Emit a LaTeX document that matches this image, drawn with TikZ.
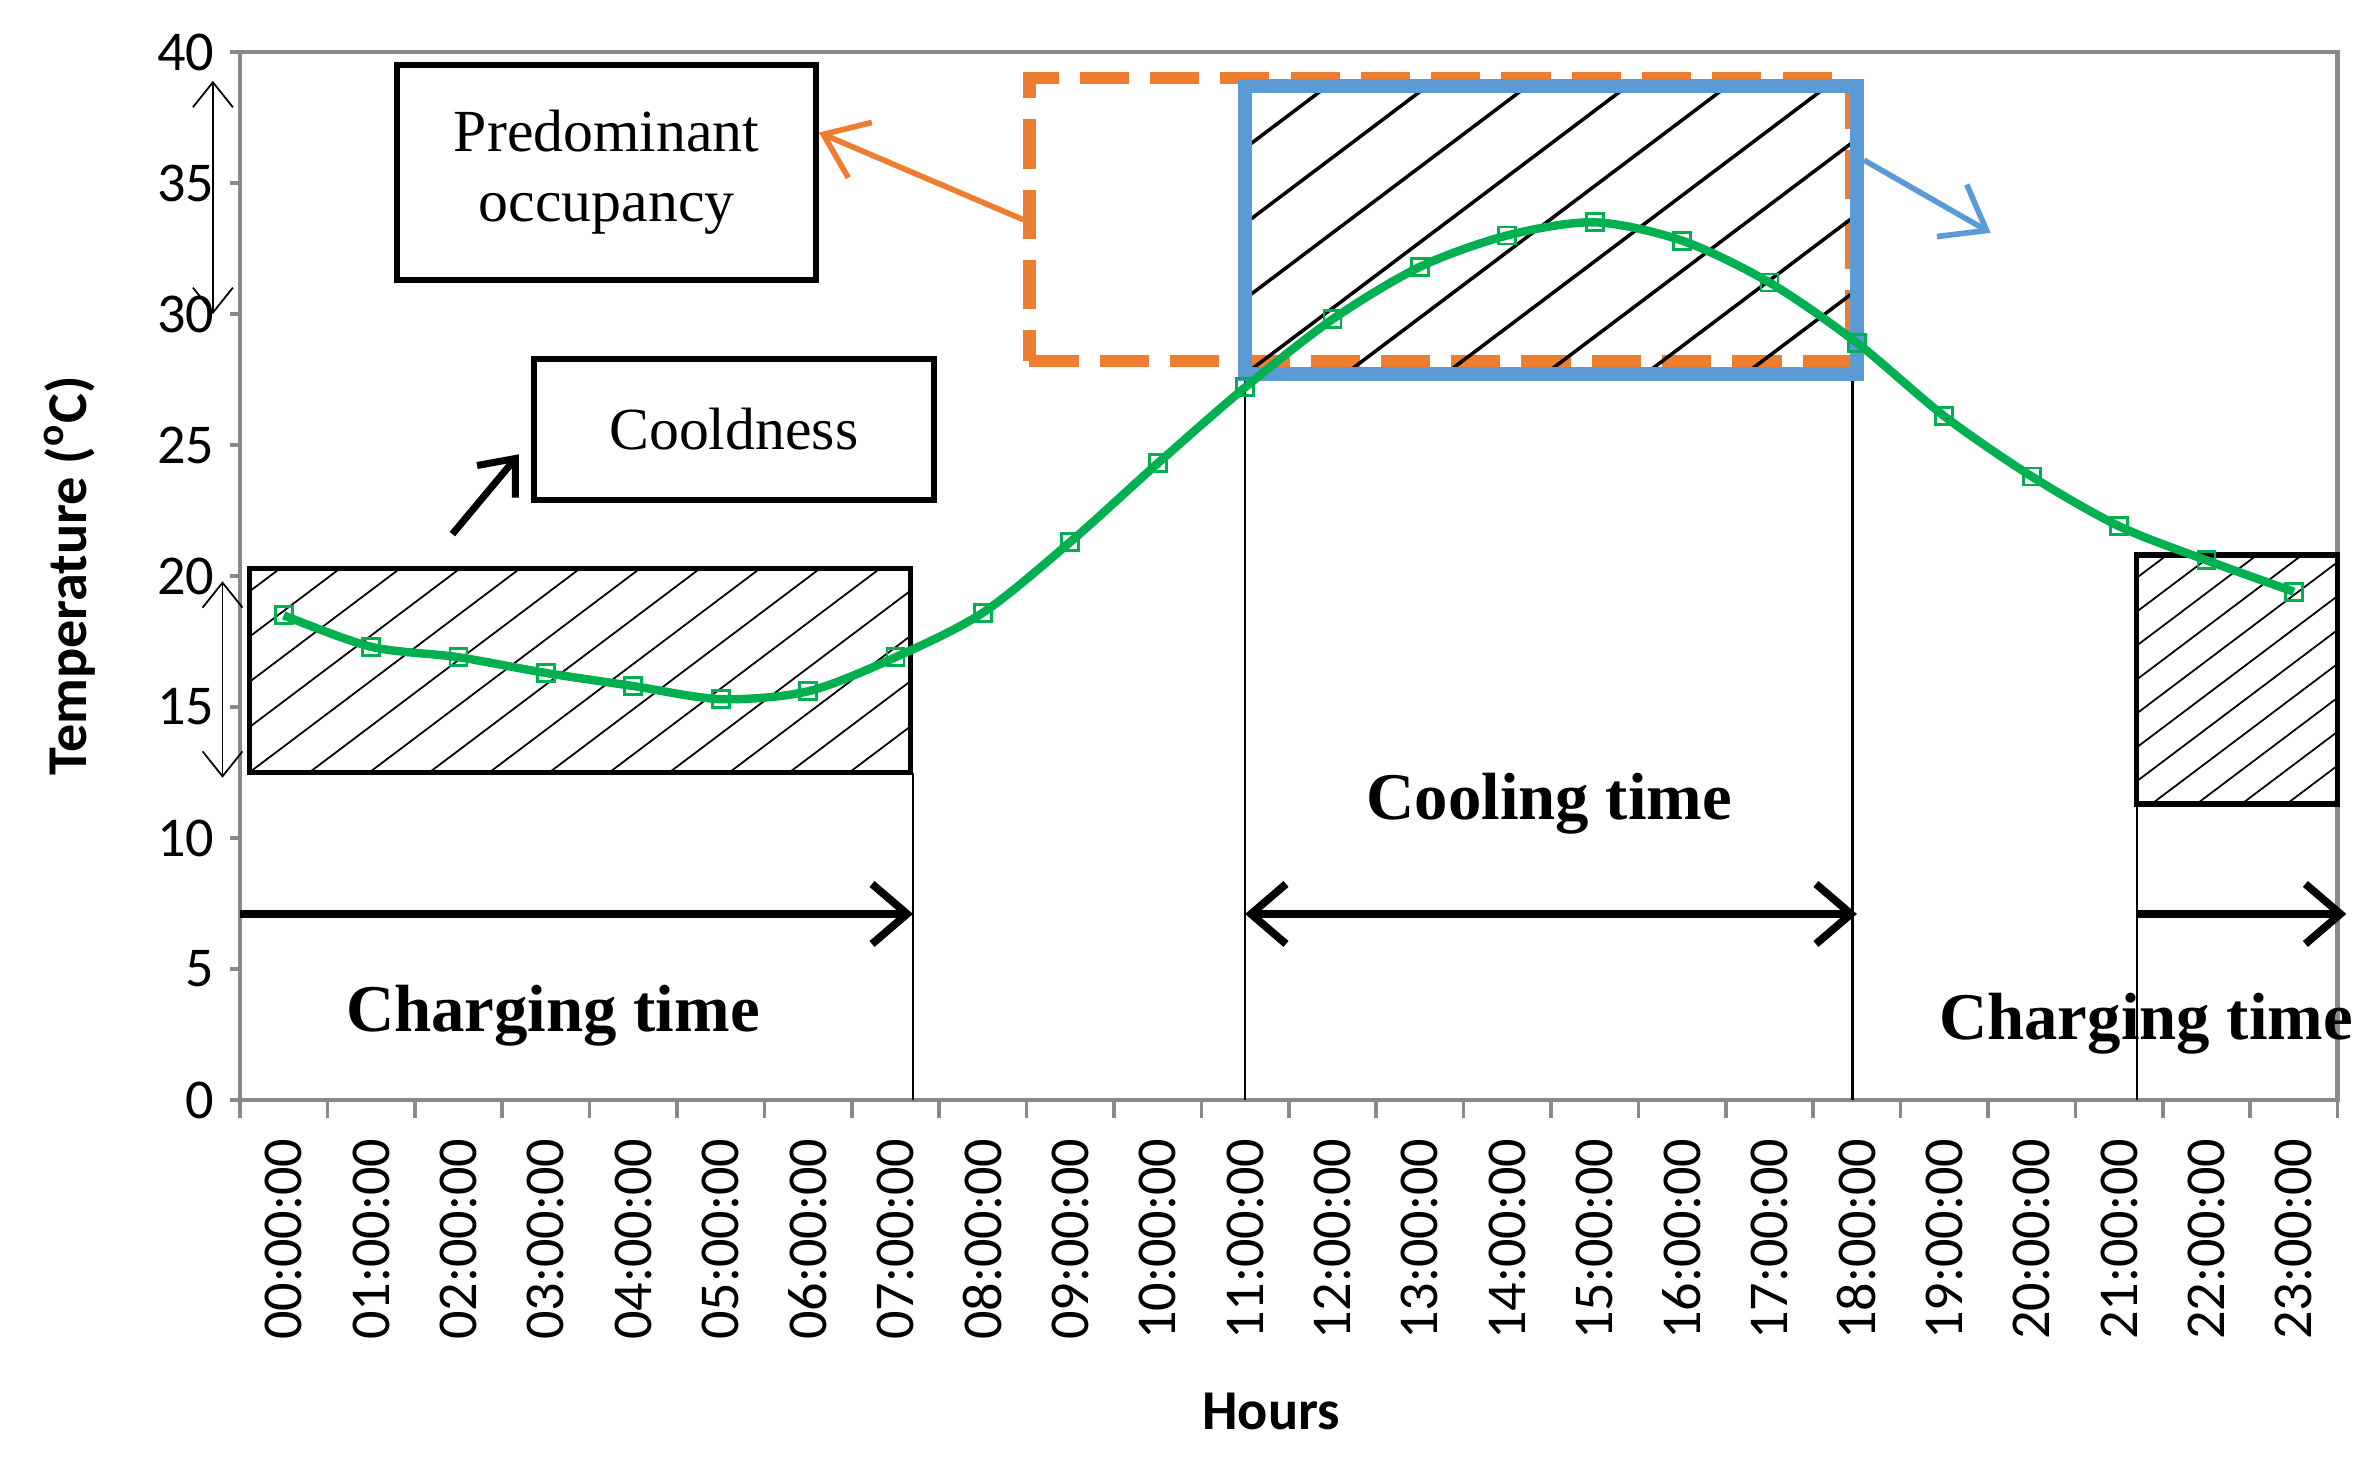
\documentclass[tikz,border=0pt]{standalone}
\usepackage{fontspec}
\setmainfont{Liberation Serif}
\newfontfamily\axisfont{Carlito}
\usetikzlibrary{arrows.meta,positioning}
\definecolor{curvegreen}{RGB}{0,176,80}
\definecolor{occorange}{RGB}{237,125,49}
\definecolor{coolblue}{RGB}{91,155,213}
\definecolor{framegray}{RGB}{137,137,137}
\tikzset{
  box/.style={draw, line width=1.6pt, inner sep=0pt, font=\fontsize{17}{20}\selectfont, align=center},
  hatch/.style 2 args={path picture={
      \foreach \k in {0,...,40}
        \draw[black, line width=#2] ([xshift=\k*#1 cm - 12cm]path picture bounding box.south west) -- ++(37:20cm);}},
  span/.style={line width=2.2pt, -{Straight Barb[length=3.5mm,width=6mm]}},
  thin span/.style={line width=0.5pt, {Straight Barb[length=2.5mm,width=4mm]}-{Straight Barb[length=2.5mm,width=4mm]}},
  period/.style={font=\bfseries\fontsize{19}{22}\selectfont},
  tick/.style={font=\axisfont\fontsize{16}{18}\selectfont},
}
\begin{document}
\begin{tikzpicture}
\useasboundingbox (0,0) rectangle (23.75,14.57);
\begin{scope}[shift={(2.40,3.57)}, x=0.874cm, y=0.262cm]
  % frame and axes
  \draw[framegray, line width=1.2pt] (0,0) rectangle (24,40);
  \foreach \t in {0,5,...,40} {
    \draw[framegray, line width=1pt] (-0.12,\t) -- (0,\t);
    \node[tick, anchor=east] at (-0.15,\t) {\t};
  }
  \foreach \h in {0,...,24}
    \draw[framegray, line width=1pt] (\h,0) -- (\h,-0.7);
  \foreach \h in {0,...,23} {
    \pgfmathsetmacro{\hh}{\h<10 ? "0\h" : "\h"}
    \node[tick, rotate=90, anchor=east] at (\h+0.5,-1) {\hh:00:00};
  }
  \node[font=\axisfont\bfseries\fontsize{16}{19}\selectfont, rotate=90] at (-1.95,20) {Temperature (\textsuperscript{o}C)};
  \node[font=\axisfont\bfseries\fontsize{16}{19}\selectfont] at (11.8,-11.9) {Hours};

  % period separators
  \draw[line width=0.6pt] (7.7,12.5) -- (7.7,0);
  \draw[line width=0.6pt] (11.5,29.6) -- (11.5,0);
  \draw[line width=0.6pt] (18.45,28) -- (18.45,0);
  \draw[line width=0.6pt] (21.7,20) -- (21.7,0);

  % boxes
  \node[box, hatch={0.6}{0.5pt}, minimum width=6.61cm, minimum height=2.04cm] (chargebox) at (3.89,16.4) {};
  \node[box, hatch={0.45}{0.5pt}, minimum width=2.01cm, minimum height=2.49cm] (latebox) at (22.85,16.05) {};
  \node[box, minimum width=4.19cm, minimum height=2.15cm] (pred) at (4.195,35.4) {Predominant\\occupancy};
  \node[box, minimum width=4.0cm, minimum height=1.41cm] (cold) at (5.65,25.6) {Cooldness};
  \node[draw=occorange, line width=3.5pt, dash pattern=on 14pt off 6pt, minimum width=8.22cm, minimum height=2.83cm, inner sep=0pt] (occ) at (13.735,33.6) {};
  \node[draw=coolblue, line width=4pt, hatch={1.0}{1pt}, minimum width=6.12cm, minimum height=2.88cm, inner sep=0pt] (cool) at (15.0,33.2) {};

  % temperature curve
  \draw[curvegreen, line width=2.4pt] plot[smooth] coordinates {
    (0.5,18.5) (1.5,17.3) (2.5,16.9) (3.5,16.3) (4.5,15.8) (5.5,15.3) (6.5,15.6) (7.5,16.9)
    (8.5,18.6) (9.5,21.3) (10.5,24.3) (11.5,27.2) (12.5,29.8) (13.5,31.8) (14.5,33.0) (15.5,33.5)
    (16.5,32.8) (17.5,31.2) (18.5,28.9) (19.5,26.1) (20.5,23.8) (21.5,21.9) (22.5,20.6) (23.5,19.4)};
  \foreach \h/\t in {0/18.5,1/17.3,2/16.9,3/16.3,4/15.8,5/15.3,6/15.6,7/16.9,8/18.6,9/21.3,10/24.3,11/27.2,
                     12/29.8,13/31.8,14/33.0,15/33.5,16/32.8,17/31.2,18/28.9,19/26.1,20/23.8,21/21.9,22/20.6,23/19.4}
    \node[draw=curvegreen, line width=0.8pt, minimum size=0.17cm, inner sep=0pt] (p\h) at (\h+0.5,\t) {};

  % pointers
  \coordinate (coldtail) at (2.43,21.6);
  \coordinate (coolhead) at (20.03,33.1);
  \draw[line width=2pt, -{Straight Barb[length=3mm,width=5mm]}] (coldtail) -- ([xshift=-0.12cm,yshift=-0.25cm]cold.west);
  \draw[occorange, line width=1.6pt, -{Straight Barb[length=4mm,width=6mm]}] (occ.west) -- ([yshift=0.4cm]pred.east);
  \draw[coolblue, line width=1.6pt, -{Straight Barb[length=4mm,width=6mm]}] ([yshift=0.7cm]cool.east) -- (coolhead);

  % time spans
  \coordinate (cs) at (0,7.1);
  \coordinate (ce) at (7.7,7.1);
  \coordinate (os) at (11.5,7.1);
  \coordinate (oe) at (18.5,7.1);
  \coordinate (ls) at (21.7,7.1);
  \coordinate (le) at (24.1,7.1);
  \draw[span] (cs) -- (ce);
  \draw[span, {Straight Barb[length=3.5mm,width=6mm]}-{Straight Barb[length=3.5mm,width=6mm]}] (os) -- (oe);
  \draw[span] (ls) -- (le);
  \coordinate (a1) at (-0.31,38.9);
  \coordinate (a2) at (-0.31,30.0);
  \coordinate (b1) at (-0.2,19.8);
  \coordinate (b2) at (-0.2,12.3);
  \draw[thin span] (a1) -- (a2);
  \draw[thin span] (b1) -- (b2);

  \node[period] (charge1) at (3.58,3.2) {Charging time};
  \node[period] (cooling) at (14.98,11.3) {Cooling time};
  \node[period, anchor=west] (charge2) at (19.3,2.9) {Charging time};
\end{scope}
\end{tikzpicture}
\end{document}
